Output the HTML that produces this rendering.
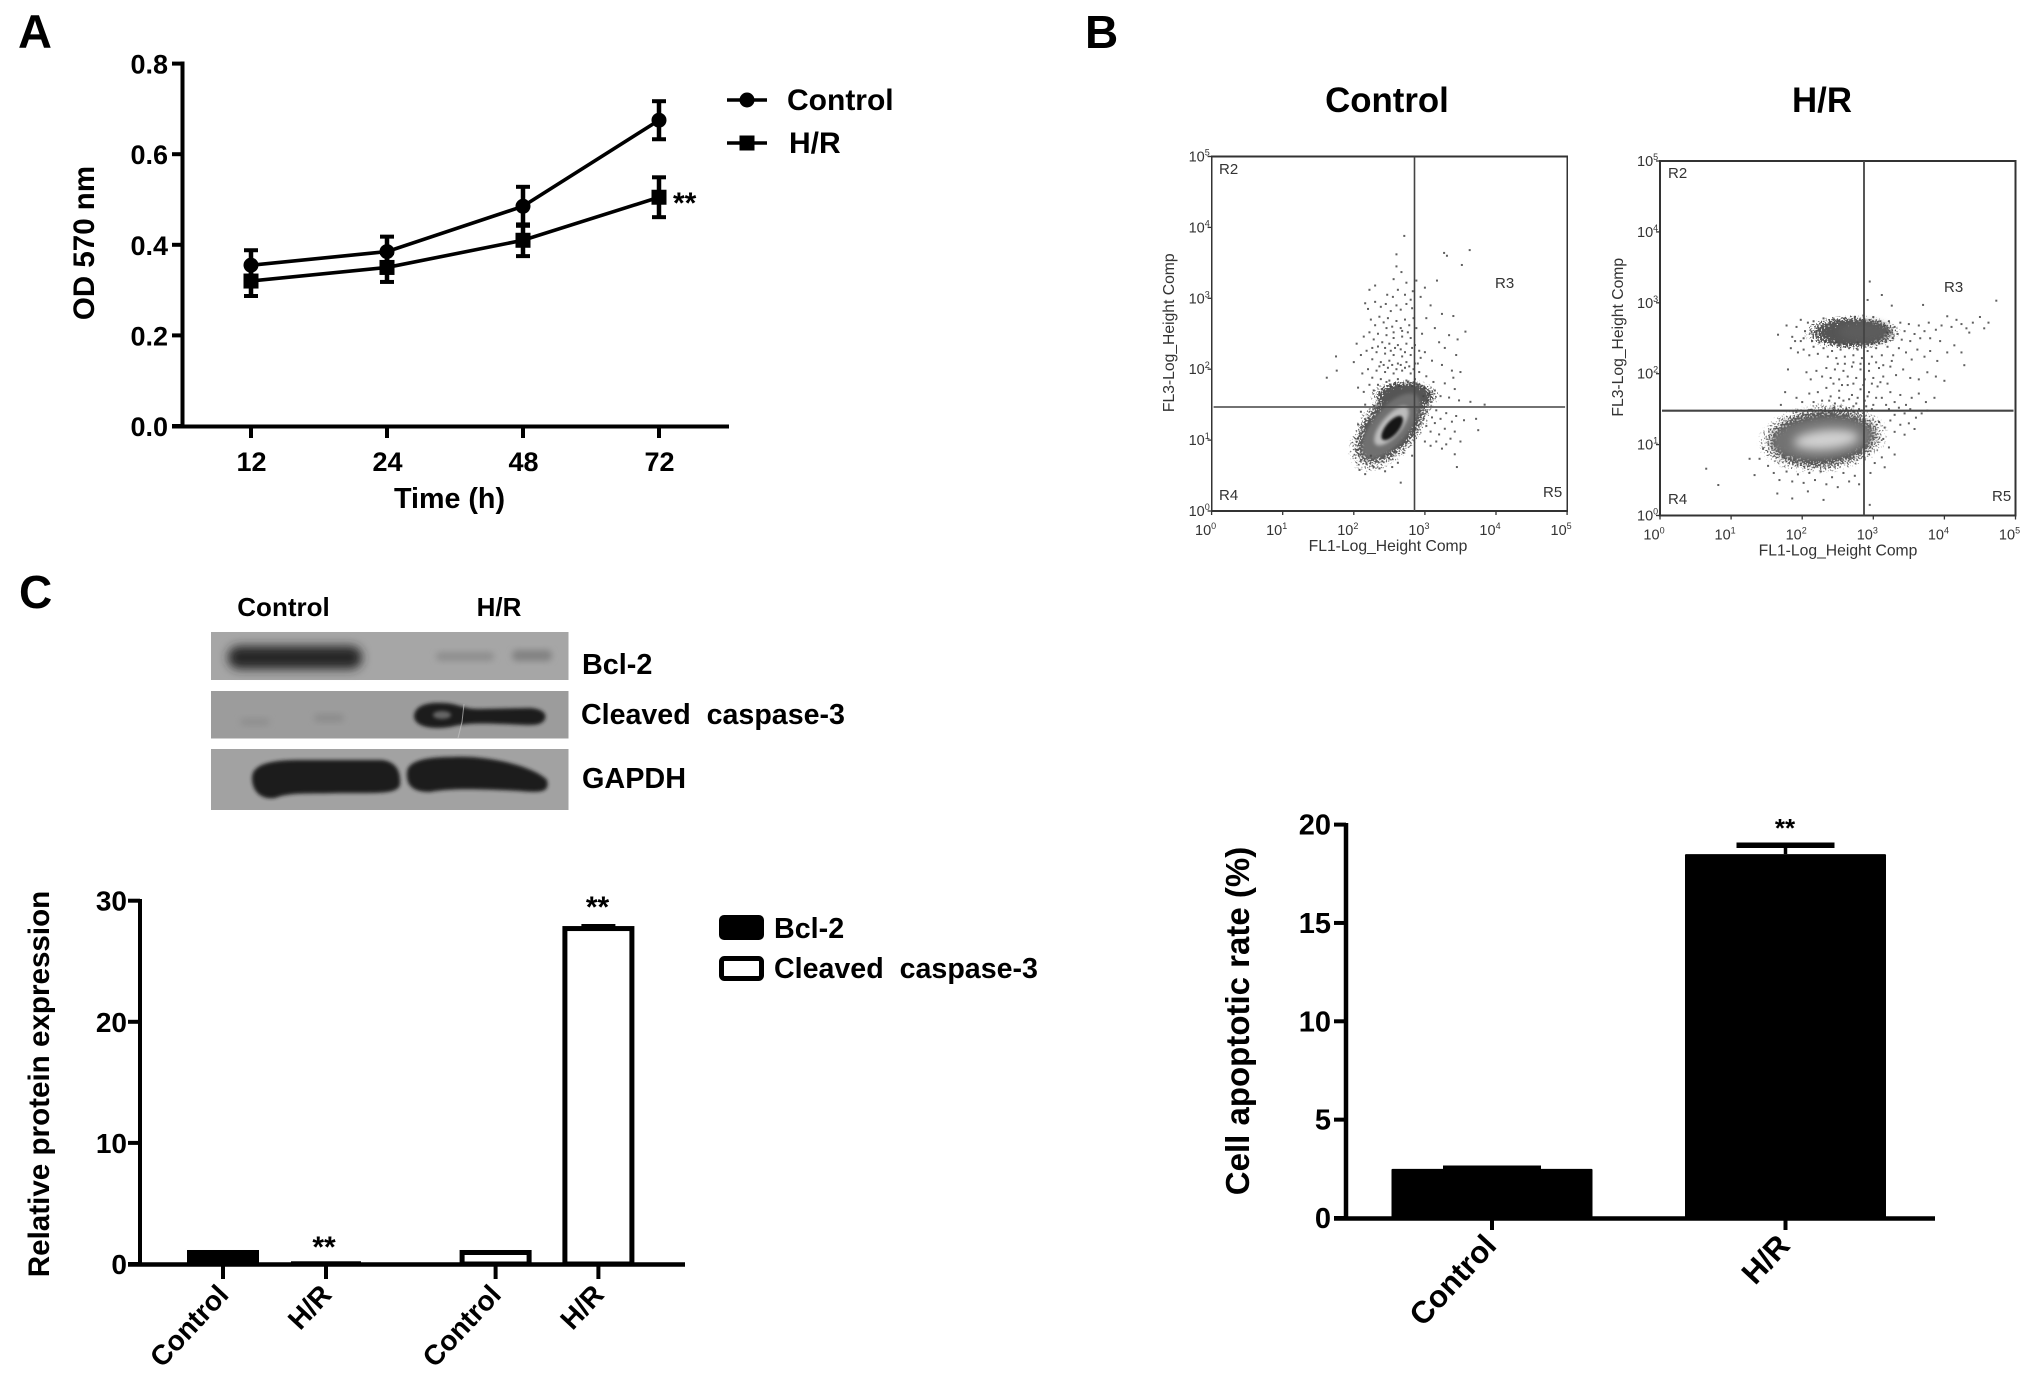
<!DOCTYPE html>
<html lang="en">
<head>
<meta charset="utf-8">
<title>Cell viability, apoptosis and protein expression after H/R</title>
<style>
html,body{margin:0;padding:0;background:#fff;}
svg{display:block;font-family:"Liberation Sans",sans-serif;}
text{fill:#000;}
.b{font-weight:bold;}
</style>
</head>
<body>
<svg id="figure" xmlns="http://www.w3.org/2000/svg" width="2031" height="1374" viewBox="0 0 2031 1374">
<defs>
<radialGradient id="fade"><stop offset="0" stop-color="#000" stop-opacity="1"/><stop offset=".5" stop-color="#000" stop-opacity=".8"/><stop offset="1" stop-color="#000" stop-opacity="0"/></radialGradient>
<filter id="stipple" x="-15%" y="-15%" width="130%" height="130%" color-interpolation-filters="sRGB">
<feTurbulence type="fractalNoise" baseFrequency="0.62" numOctaves="1" seed="4" result="n"/>
<feColorMatrix in="n" type="matrix" values="0 0 0 0 0 0 0 0 0 0 0 0 0 0 0 1.5 0 0 0 0" result="na"/>
<feComposite in="SourceGraphic" in2="na" operator="arithmetic" k1="0" k2="1" k3="1" k4="-1.1" result="s"/>
<feComponentTransfer in="s" result="h"><feFuncA type="linear" slope="9" intercept="-0.6"/></feComponentTransfer>
<feFlood flood-color="#555"/>
<feComposite in2="h" operator="in"/>
</filter>
<filter id="soft1" x="-20%" y="-20%" width="140%" height="140%"><feGaussianBlur stdDeviation="1.2"/></filter>
<filter id="soft2" x="-20%" y="-40%" width="140%" height="180%"><feGaussianBlur stdDeviation="1.9"/></filter>
<filter id="soft3" x="-20%" y="-50%" width="140%" height="200%"><feGaussianBlur stdDeviation="3.2"/></filter>
<filter id="soft5" x="-40%" y="-80%" width="180%" height="260%"><feGaussianBlur stdDeviation="5"/></filter>
</defs>
<rect width="2031" height="1374" fill="#fff"/>

<text class="b" x="18" y="48" font-size="47">A</text>
<text class="b" x="1085" y="48" font-size="46">B</text>
<text class="b" x="19" y="608" font-size="46">C</text>

<g id="panelA">
<text class="b" font-size="29.5" text-anchor="middle" transform="translate(94,243) rotate(-90)">OD 570 nm</text>
<text class="b" font-size="28.7" text-anchor="middle" x="449.5" y="508">Time (h)</text>
<g>
<line x1="727" x2="767" y1="100" y2="100" stroke="#000" stroke-width="3.6"/>
<circle cx="747" cy="100" r="7.5"/>
<text class="b" font-size="30" x="787" y="110">Control</text>
</g>
<g>
<line x1="727" x2="767" y1="143" y2="143" stroke="#000" stroke-width="3.6"/>
<rect x="739.5" y="135.5" width="15" height="15"/>
<text class="b" font-size="30" x="789" y="153">H/R</text>
</g>
<text class="b" font-size="30" x="673" y="213">**</text>
</g>

<g id="panelB">
<text class="b" font-size="34.8" text-anchor="middle" x="1387" y="112">Control</text>
<text class="b" font-size="34.8" text-anchor="middle" x="1822" y="112">H/R</text>
</g>

<g id="blots">
<text class="b" font-size="26" text-anchor="middle" x="283.5" y="616">Control</text>
<text class="b" font-size="26" text-anchor="middle" x="499" y="616">H/R</text>
<rect x="211" y="632" width="357.5" height="48" fill="#a6a6a6"/>
<rect x="228" y="646" width="134" height="23" rx="11" fill="#262626" filter="url(#soft5)"/>
<rect x="436" y="652" width="58" height="9" rx="4" fill="#8f8f8f" filter="url(#soft3)"/>
<rect x="512" y="650" width="40" height="11" rx="5" fill="#828282" filter="url(#soft3)"/>
<rect x="211" y="691" width="357.5" height="47.5" fill="#9c9c9c"/>
<rect x="240" y="718" width="30" height="8" rx="4" fill="#909090" filter="url(#soft3)"/>
<rect x="314" y="714" width="30" height="8" rx="4" fill="#8c8c8c" filter="url(#soft3)"/>
<path d="M414 716C415 705 428 702 443 703C456 703 464 709 478 709L530 708C542 709 547 713 545 719C541 727 530 725 505 724C480 723 465 723 450 727C430 730 414 726 414 716Z" fill="#1c1c1c" filter="url(#soft2)"/>
<ellipse cx="442" cy="715" rx="9" ry="4" fill="#666" filter="url(#soft2)"/>
<path d="M464 704L462 722L458 738" stroke="#c4c4c4" stroke-width="1" fill="none" opacity=".7"/>
<rect x="211" y="749" width="357.5" height="61" fill="#a2a2a2"/>
<path d="M252 778C252 765 268 760 300 760L382 760C397 762 401 772 400 785C397 794 380 793 340 793C310 794 290 792 275 798C262 800 252 792 252 778Z" fill="#1e1e1e" filter="url(#soft2)"/>
<path d="M407 772C408 761 425 757 452 757C490 755 535 767 547 780C550 792 542 793 520 791C480 789 450 788 430 792C412 792 406 785 407 772Z" fill="#1e1e1e" filter="url(#soft2)"/>
<text class="b" font-size="28.8" x="582" y="674">Bcl-2</text>
<text class="b" font-size="28.6" x="581" y="724" word-spacing="8">Cleaved caspase-3</text>
<text class="b" font-size="28.8" x="582" y="788">GAPDH</text>
</g>

<g id="panelC">
<text class="b" font-size="29.6" text-anchor="middle" transform="translate(49,1084) rotate(-90)">Relative protein expression</text>
<rect x="721" y="917" width="41" height="21" rx="3" fill="#000" stroke="#000" stroke-width="4"/>
<text class="b" font-size="28.7" x="774" y="938">Bcl-2</text>
<rect x="721.5" y="958.5" width="40" height="20" rx="3" fill="#fff" stroke="#000" stroke-width="5"/>
<text class="b" font-size="28.6" x="774" y="978" word-spacing="8">Cleaved caspase-3</text>
<text class="b" font-size="30" text-anchor="middle" x="324" y="1257">**</text>
<text class="b" font-size="30" text-anchor="middle" x="597.5" y="917">**</text>
</g>

<g id="panelD">
<text class="b" font-size="33" text-anchor="middle" transform="translate(1249,1021) rotate(-90)">Cell apoptotic rate (%)</text>
<text class="b" font-size="26" text-anchor="middle" x="1785" y="837">**</text>
</g>
</svg>

<script>
/* ---------- Panel A data ---------- */
const timeCategories = ['12','24','48','72'];
const controlOD = [0.355,0.385,0.485,0.675];
const controlODErr = [0.033,0.033,0.043,0.042];
const hrOD = [0.32,0.35,0.41,0.505];
const hrODErr = [0.033,0.032,0.035,0.044];
const odTicks = ['0.0','0.2','0.4','0.6','0.8'];

/* ---------- Panel C data ---------- */
const proteinCategories = ['Control','H/R','Control','H/R'];
const proteinValues = [0.95,0.1,0.95,27.7];
const proteinErr = [0.08,0.03,0.08,0.25];
const proteinTicks = ['0','10','20','30'];

/* ---------- Apoptosis bar data ---------- */
const apoptosisCategories = ['Control','H/R'];
const apoptosisValues = [2.5,18.5];
const apoptosisErr = [0.03,0.45];
const apoptosisTicks = ['0','5','10','15','20'];

/* ---------- Flow cytometry data (log10 FL1, log10 FL3) ---------- */
const flowDecades = ['0','1','2','3','4','5'];
const controlEvents = [[2.71,3.88],[2.60,3.62],[3.27,3.64],[3.31,3.60],[3.63,3.68],[3.52,3.47],[2.60,3.45],[2.67,3.37],[2.88,3.25],[3.17,3.25],[2.56,3.27],[2.74,3.22],[2.83,3.10],[2.22,3.12],[2.30,3.18],[2.47,3.05],[2.55,3.02],[2.62,3.12],[2.72,3.05],[2.80,2.98],[2.94,3.02],[3.00,3.15],[2.16,2.93],[2.20,2.85],[2.30,2.95],[2.38,2.88],[2.45,2.92],[2.52,2.82],[2.60,2.90],[2.66,2.84],[2.74,2.92],[2.82,2.86],[3.08,2.90],[3.24,2.78],[3.40,2.75],[3.57,2.53],[3.46,2.42],[2.04,2.36],[1.75,2.18],[1.76,1.98],[1.62,1.88],[2.24,2.70],[2.30,2.62],[2.36,2.74],[2.42,2.66],[2.48,2.72],[2.54,2.60],[2.60,2.68],[2.66,2.58],[2.72,2.70],[2.78,2.62],[2.84,2.72],[2.14,2.46],[2.22,2.52],[2.28,2.42],[2.34,2.50],[2.40,2.38],[2.46,2.48],[2.50,2.36],[2.56,2.44],[2.62,2.34],[2.68,2.46],[2.74,2.36],[2.80,2.44],[2.86,2.34],[2.96,2.50],[3.02,2.72],[3.14,2.58],[3.20,2.38],[3.34,2.48],[3.28,2.30],[3.44,2.20],[2.00,2.10],[2.10,2.20],[2.18,2.26],[2.26,2.14],[2.32,2.24],[2.38,2.10],[2.44,2.22],[2.50,2.12],[2.56,2.20],[2.62,2.08],[2.68,2.18],[2.74,2.10],[2.80,2.20],[2.86,2.08],[2.94,2.16],[3.00,2.24],[3.10,2.12],[3.24,2.06],[3.38,1.98],[3.50,1.96],[2.12,1.94],[2.20,2.00],[2.26,1.88],[2.32,1.98],[2.38,1.86],[2.44,1.96],[2.50,1.84],[2.56,1.94],[2.62,1.86],[2.68,1.98],[2.74,1.84],[2.80,1.94],[2.86,1.86],[2.92,1.96],[3.02,1.90],[3.12,1.82],[3.28,1.80],[3.40,1.88],[2.06,1.74],[2.14,1.68],[2.22,1.78],[2.28,1.70],[3.00,1.74],[3.06,1.66],[3.14,1.70],[3.22,1.62],[3.34,1.60],[3.42,1.72],[3.48,1.56],[3.64,1.54],[3.84,1.50],[3.03,1.40],[3.10,1.32],[3.16,1.42],[3.22,1.30],[3.30,1.38],[3.38,1.26],[3.44,1.34],[3.55,1.28],[3.72,1.30],[3.75,1.14],[3.02,1.20],[3.08,1.12],[3.14,1.24],[3.20,1.08],[3.28,1.16],[3.36,1.02],[3.42,1.12],[3.50,0.98],[3.00,0.98],[3.08,0.92],[3.16,0.98],[3.24,0.88],[3.30,0.94],[3.42,0.80],[3.45,0.62],[2.05,0.86],[2.10,0.72],[2.18,0.66],[2.24,0.78],[2.08,0.58],[2.16,0.52],[2.28,0.62],[2.36,0.60],[2.44,0.56],[2.54,0.62],[2.62,0.68],[2.66,0.40],[2.70,0.82],[2.82,0.78],[2.34,1.78],[2.40,1.72],[2.46,1.82],[2.52,1.76],[2.58,1.80],[2.64,1.76],[2.70,1.78],[2.76,1.82],[2.82,1.76],[2.88,1.80],[2.94,1.76],[2.36,2.04],[2.42,2.06],[2.48,2.02],[2.54,2.06],[2.60,2.00],[2.66,2.06],[2.72,2.02],[2.78,2.04],[2.84,2.00],[2.90,2.08],[2.34,2.32],[2.44,2.30],[2.52,2.26],[2.58,2.30],[2.66,2.28],[2.72,2.24],[2.82,2.30],[2.92,2.26],[2.46,2.58],[2.56,2.52],[2.68,2.54],[2.76,2.52],[2.88,2.58],[2.26,2.30],[2.98,1.62],[2.16,1.50],[2.10,1.40],[2.06,1.22],[3.04,1.56],[2.06,1.02],[2.98,1.30]];
const hrEvents = [[4.73,3.03],[3.12,3.11],[2.92,3.04],[3.70,2.97],[2.95,3.30],[3.26,2.96],[4.04,2.81],[4.17,2.76],[4.50,2.80],[4.56,2.64],[4.31,2.64],[4.24,2.70],[4.40,2.72],[4.10,2.66],[4.35,2.58],[4.62,2.72],[3.96,2.68],[3.88,2.62],[3.78,2.72],[3.72,2.60],[3.64,2.68],[3.58,2.56],[3.50,2.70],[3.44,2.60],[3.38,2.72],[3.34,2.56],[3.30,2.66],[1.66,2.55],[1.78,2.68],[1.86,2.52],[1.92,2.66],[1.98,2.46],[2.04,2.60],[2.08,2.72],[2.14,2.46],[1.84,2.36],[1.94,2.30],[2.02,2.34],[2.10,2.26],[2.16,2.38],[2.22,2.28],[2.30,2.36],[2.36,2.24],[2.42,2.32],[2.48,2.22],[2.54,2.34],[2.60,2.24],[2.66,2.36],[2.72,2.26],[2.78,2.34],[2.84,2.22],[2.92,2.32],[2.98,2.24],[3.04,2.36],[3.12,2.26],[3.20,2.38],[3.28,2.26],[3.36,2.36],[3.46,2.30],[3.54,2.20],[3.62,2.34],[3.72,2.24],[3.80,2.32],[3.90,2.18],[4.04,2.30],[4.14,2.40],[4.24,2.30],[4.28,2.12],[1.80,2.06],[2.06,2.02],[2.12,1.92],[2.20,2.04],[2.28,1.96],[2.34,2.08],[2.40,1.94],[2.46,2.06],[2.52,1.92],[2.58,2.04],[2.64,1.96],[2.70,2.10],[2.76,1.94],[2.82,2.06],[2.88,1.92],[2.94,2.04],[3.00,1.94],[3.08,2.08],[3.14,1.96],[3.24,2.10],[3.32,1.98],[3.42,2.06],[3.52,1.94],[3.64,1.92],[3.76,2.02],[3.88,1.96],[4.00,1.90],[1.76,1.74],[1.70,1.56],[1.92,1.66],[2.00,1.60],[2.10,1.72],[2.16,1.60],[2.22,1.74],[2.28,1.62],[2.34,1.80],[2.40,1.68],[2.46,1.58],[2.52,1.76],[2.58,1.62],[2.64,1.84],[2.70,1.70],[2.76,1.58],[2.82,1.78],[2.88,1.62],[2.94,1.74],[3.00,1.56],[3.06,1.82],[3.12,1.66],[3.18,1.56],[3.24,1.74],[3.30,1.60],[3.38,1.70],[3.46,1.56],[3.54,1.66],[3.64,1.72],[3.74,1.60],[3.86,1.66],[3.22,1.50],[3.30,1.42],[3.36,1.52],[3.44,1.44],[3.52,1.50],[3.60,1.38],[3.68,1.44],[3.76,1.48],[3.08,1.32],[3.16,1.24],[3.24,1.34],[3.30,1.18],[3.38,1.28],[3.44,1.14],[3.50,1.30],[3.58,1.22],[3.14,1.08],[3.22,0.96],[3.30,0.86],[3.12,0.82],[3.02,0.74],[2.96,0.60],[3.16,0.68],[1.45,0.94],[1.40,0.80],[1.52,0.70],[1.60,0.60],[1.68,0.50],[1.78,0.62],[1.86,0.48],[1.94,0.58],[2.02,0.46],[2.10,0.60],[2.18,0.50],[2.26,0.62],[2.34,0.44],[2.42,0.54],[2.50,0.40],[2.58,0.60],[2.66,0.48],[2.74,0.56],[2.80,0.44],[0.65,0.66],[0.82,0.43],[1.33,0.57],[1.65,0.31],[2.95,0.15],[2.30,0.22],[2.08,0.34],[1.86,0.24],[1.26,0.80],[2.44,1.52],[2.54,1.54],[2.62,1.50],[2.72,1.54],[2.80,1.50],[2.90,1.54],[2.98,1.50],[2.38,1.62],[2.52,1.66],[2.66,1.64],[2.78,1.66],[2.92,1.68],[3.04,1.66],[2.44,1.86],[2.56,1.84],[2.72,1.86],[2.86,1.84],[2.98,1.86],[3.10,1.88],[3.20,1.86],[2.50,2.14],[2.60,2.14],[2.72,2.16],[2.82,2.14],[2.94,2.14],[3.04,2.16],[3.14,2.12],[3.26,2.18],[2.16,2.74],[2.24,2.44],[2.32,2.46],[2.40,2.42],[2.48,2.44],[2.58,2.42],[2.68,2.42],[2.78,2.44],[2.98,2.42],[3.08,2.44],[3.18,2.46],[3.10,2.74],[3.16,2.68],[3.22,2.74],[3.20,2.58],[3.28,2.50],[3.40,2.48],[3.52,2.46],[3.66,2.50],[3.80,2.50],[3.94,2.46],[1.98,2.76],[2.02,2.50],[1.90,2.46],[2.30,2.78],[2.44,2.76],[2.60,2.78],[2.74,2.80],[2.86,2.82],[3.00,2.80]];

/* Density regions: centre and spread in log10 decades */
const controlDensityX = [2.52,2.72,2.52,2.53,2.54];
const controlDensityY = [1.20,1.62,1.20,1.20,1.17];
const controlSpreadLong = [0.88,0.56,0.56,0.34,0.21];
const controlSpreadShort = [0.48,0.26,0.25,0.14,0.09];
const hrDensityX = [2.29,2.70,2.29,2.88,2.34];
const hrDensityY = [1.09,2.58,1.09,2.59,1.07];
const hrSpreadLong = [1.04,0.78,0.72,0.36,0.46];
const hrSpreadShort = [0.56,0.28,0.30,0.14,0.14];

/* ---------- Rendering ---------- */
const NS = 'http://www.w3.org/2000/svg';
function mk(parent, tag, attrs, name) {
  const el = document.createElementNS(NS, tag);
  for (const k in attrs) el.setAttribute(k, attrs[k]);
  
  
  parent.appendChild(el);
  return el;
}
function label(parent, str, x, y, size, anchor, name, bold, rot) {
  const el = mk(parent, 'text', {x:x, y:y, 'font-size':size, 'text-anchor':anchor}, name);
  if (bold) el.setAttribute('class', 'b');
  if (rot) el.setAttribute('transform', 'rotate(' + rot + ' ' + x + ' ' + y + ')');
  el.textContent = str;
  return el;
}
function seg(parent, x1, y1, x2, y2, w, name, col) {
  return mk(parent, 'line', {x1:x1, y1:y1, x2:x2, y2:y2, stroke:col || '#000', 'stroke-width':w}, name);
}

/* Panel A */
(function () {
  const g = document.getElementById('panelA');
  const xAt = i => 251 + i * 136;
  const yAt = v => 426 - v * 453;
  odTicks.forEach(t => {
    const y = yAt(parseFloat(t));
    seg(g, 172, y, 182, y, 4, 'y-tick');
    label(g, t, 168, y + 10, 27, 'end', 'y-tick-label', true);
  });
  seg(g, 182.5, 61.5, 182.5, 428, 4, 'y-axis');
  seg(g, 172, 426.5, 729, 426.5, 4, 'x-axis');
  timeCategories.forEach((c, i) => {
    seg(g, xAt(i), 426, xAt(i), 438, 4, 'x-tick');
    label(g, c, xAt(i) + 0.5, 471, 27, 'middle', 'x-tick-label', true);
  });
  function series(vals, errs, marker, key) {
    mk(g, 'polyline', {points: vals.map((v, i) => xAt(i) + ',' + yAt(v)).join(' '), fill:'none', stroke:'#000', 'stroke-width':3.6}, 'line-' + key);
    vals.forEach((v, i) => {
      const x = xAt(i), hi = yAt(v + errs[i]), lo = yAt(v - errs[i]);
      seg(g, x, hi, x, lo, 4.5, 'error-bar-' + key);
      seg(g, x - 7, hi, x + 7, hi, 4, 'error-cap-' + key);
      seg(g, x - 7, lo, x + 7, lo, 4, 'error-cap-' + key);
      if (marker === 'circle') {
        mk(g, 'circle', {cx:x, cy:yAt(v), r:7.5}, 'point-' + key);
      } else {
        mk(g, 'rect', {x:x - 7.5, y:yAt(v) - 7.5, width:15, height:15}, 'point-' + key);
      }
    });
  }
  series(controlOD, controlODErr, 'circle', 'control');
  series(hrOD, hrODErr, 'square', 'hr');
})();

/* Panel B */
function flowPlot(key, left, top, gateX, gateY, events, dx, dy, sl, ss, angles, titleX, yTitleX, rPos) {
  const root = document.getElementById('panelB');
  const g = mk(root, 'g', {}, 'flow-plot-' + key);
  const w = 355.5, h = 354.5;
  const px = d => left + d * w / 5;
  const py = d => top + h - d * h / 5;
  const unit = w / 5;
  const layerFill = key === 'control'
    ? ['', '', '#707070', '#bdbdbd', '#141414']
    : ['', '', '#727272', '#5c5c5c', '#d2d2d2'];
  const layerBlur = key === 'control'
    ? ['', '', 'soft2', 'soft2', 'soft1']
    : ['', '', 'soft3', 'soft3', 'soft5'];
  const frame = mk(g, 'rect', {x:left, y:top, width:w, height:h, fill:'none', stroke:'#333', 'stroke-width':1.6}, 'flow-plot-frame');
  frame.setAttribute('shape-rendering', 'crispEdges');
  dx.forEach((x, i) => {
    const attrs = {cx:px(x), cy:py(dy[i]), rx:sl[i] * unit, ry:ss[i] * unit, transform:'rotate(' + angles[i] + ' ' + px(x) + ' ' + py(dy[i]) + ')'};
    if (layerFill[i] === '') {
      attrs.fill = 'url(#fade)';
      attrs.filter = 'url(#stipple)';
    } else {
      attrs.fill = layerFill[i];
      attrs.filter = 'url(#' + layerBlur[i] + ')';
    }
    mk(g, 'ellipse', attrs, 'flow-density-region');
  });
  events.forEach(e => {
    mk(g, 'rect', {x:px(e[0]) - 1, y:py(e[1]) - 1, width:2, height:2, fill:'#444', opacity:.85}, 'flow-event');
  });
  seg(g, gateX, top, gateX, top + h, key === 'control' ? 1.6 : 1.8, 'flow-gate-vertical', '#444');
  seg(g, left + 2, gateY, left + w - 2, gateY, key === 'control' ? 1.6 : 2.2, 'flow-gate-horizontal', '#444');
  flowDecades.forEach(dec => {
    const d = parseFloat(dec);
    seg(g, px(d), top + h, px(d), top + h + 4, 1.3, 'flow-x-tick', '#333');
    seg(g, left - 4, py(d), left, py(d), 1.3, 'flow-y-tick', '#333');
    [[px(d) - 6, top + h + 24, 'flow-x-tick-label'], [left - 23, py(d) + 5, 'flow-y-tick-label']].forEach(p => {
      const t = label(g, '10', p[0], p[1], 14.5, p[2] === 'flow-x-tick-label' ? 'middle' : 'start', p[2], false);
      t.setAttribute('style', 'fill:#333');
      const s = mk(t, 'tspan', {dy:-6, 'font-size':9}, 'flow-tick-exponent');
      s.textContent = dec;
    });
  });
  const xt = label(g, 'FL1-Log_Height Comp', titleX, top + h + 40, 15.7, 'middle', 'flow-x-axis-title', false);
  xt.setAttribute('style', 'fill:#333');
  const yt = label(g, 'FL3-Log_Height Comp', yTitleX, top + h / 2 - 1, 15.7, 'middle', 'flow-y-axis-title', false, -90);
  yt.setAttribute('style', 'fill:#333');
  rPos.forEach(r => {
    const t = label(g, r[0], r[1], r[2], 15, 'start', 'flow-region-label', false);
    t.setAttribute('style', 'fill:#333');
  });
}
flowPlot('control', 1211.6, 156.5, 1414.5, 407, controlEvents, controlDensityX, controlDensityY, controlSpreadLong, controlSpreadShort, [-50,0,-50,-50,-50], 1388, 1174,
  [['R2',1219,174],['R3',1495,288],['R4',1219,500],['R5',1543,497]]);
flowPlot('hr', 1660, 161, 1864, 410.7, hrEvents, hrDensityX, hrDensityY, hrSpreadLong, hrSpreadShort, [-5,0,-5,0,-5], 1838, 1623,
  [['R2',1668,178],['R3',1944,292],['R4',1668,504],['R5',1992,501]]);

/* Panel C */
(function () {
  const g = document.getElementById('panelC');
  const xs = [223,326,495.6,598.4];
  const yAt = v => 1264 - v * 12.11;
  proteinTicks.forEach(t => {
    const y = yAt(parseFloat(t));
    seg(g, 128, y, 140, y, 4, 'y-tick');
    label(g, t, 127, y + 10, 28, 'end', 'y-tick-label', true);
  });
  proteinValues.forEach((v, i) => {
    const x = xs[i], hi = yAt(v + proteinErr[i]);
    if (v > 0.5) {
      seg(g, x, yAt(v), x, hi, 3, 'error-bar');
      seg(g, x - 17, hi, x + 17, hi, 3, 'error-cap');
    }
    mk(g, 'rect', {x:x - 33.5, y:yAt(v), width:67, height:1264 - yAt(v), fill:i < 2 ? '#000' : '#fff', stroke:'#000', 'stroke-width':v > 0.5 ? 5 : 3}, 'bar-' + (i < 2 ? 'bcl2-' : 'caspase-') + proteinCategories[i].toLowerCase().replace('/', ''));
    seg(g, x, 1264, x, 1279, 4, 'x-tick');
  });
  seg(g, 140, 899, 140, 1266, 4, 'y-axis');
  seg(g, 128, 1264.5, 685, 1264.5, 4.5, 'x-axis');
  proteinCategories.forEach((c, i) => {
    const x = xs[i] + 7;
    label(g, c, x, 1296, 28, 'end', 'x-tick-label', true, -47);
  });
})();

/* Apoptosis chart */
(function () {
  const g = document.getElementById('panelD');
  const xs = [1492,1785.5];
  const yAt = v => 1218 - v * 19.67;
  apoptosisTicks.forEach(t => {
    const y = yAt(parseFloat(t));
    seg(g, 1334, y, 1346, y, 4, 'y-tick');
    label(g, t, 1331, y + 10, 29, 'end', 'y-tick-label', true);
  });
  apoptosisValues.forEach((v, i) => {
    const x = xs[i], hi = yAt(v + apoptosisErr[i]);
    seg(g, x, yAt(v), x, hi, 3.5, 'error-bar');
    seg(g, x - 49, hi, x + 49, hi, 5.5, 'error-cap');
    mk(g, 'rect', {x:x - 100.5, y:yAt(v), width:201, height:1218 - yAt(v), fill:'#000', rx:1}, 'bar-' + apoptosisCategories[i].toLowerCase().replace('/', ''));
    seg(g, x, 1218, x, 1230, 4, 'x-tick');
  });
  seg(g, 1346, 823, 1346, 1220, 4.5, 'y-axis');
  seg(g, 1334, 1218.5, 1935, 1218.5, 4.5, 'x-axis');
  apoptosisCategories.forEach((c, i) => {
    label(g, c, xs[i] + 6, 1247, 31, 'end', 'x-tick-label', true, -47);
  });
})();
</script>
</body>
</html>
